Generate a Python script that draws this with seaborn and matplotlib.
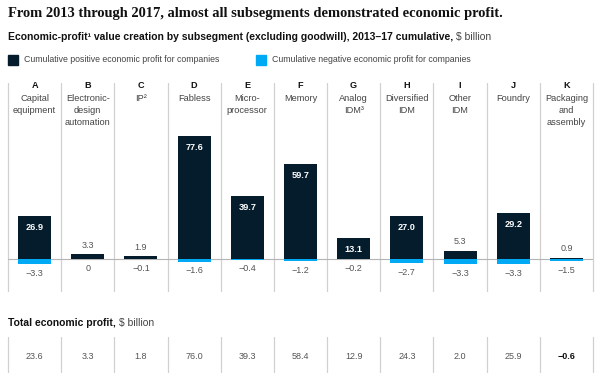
import numpy as np
import pandas as pd
import matplotlib
matplotlib.use("Agg")
import matplotlib.pyplot as plt
import seaborn as sns

# ---- data ----
letters = ["A", "B", "C", "D", "E", "F", "G", "H", "I", "J", "K"]
names = ["Capital\nequipment", "Electronic-\ndesign\nautomation", "IP\u00b2", "Fabless",
         "Micro-\nprocessor", "Memory", "Analog\nIDM\u00b3", "Diversified\nIDM",
         "Other\nIDM", "Foundry", "Packaging\nand\nassembly"]
positive = [26.9, 3.3, 1.9, 77.6, 39.7, 59.7, 13.1, 27.0, 5.3, 29.2, 0.9]
negative = [-3.3, 0.0, -0.1, -1.6, -0.4, -1.2, -0.2, -2.7, -3.3, -3.3, -1.5]
totals = [23.6, 3.3, 1.8, 76.0, 39.3, 58.4, 12.9, 24.3, 2.0, 25.9, -0.6]

DARK = "#051c2c"
BLUE = "#00a9f4"
GREY = "#d0d0d0"

sns.set_style("white")
plt.rcParams["font.family"] = ["Liberation Sans", "DejaVu Sans"]

W, H = 606, 383
fig = plt.figure(figsize=(W / 100, H / 100), dpi=100)


def fy(py):
    return 1 - py / H


def fx(px):
    return px / W


def fmt(v):
    if v == 0:
        return "0"
    return f"{v:.1f}".replace("-", "\u2212")


# ---- titles ----
fig.text(fx(8), fy(13), "From 2013 through 2017, almost all subsegments demonstrated economic profit.",
         family=["Liberation Serif", "DejaVu Serif"], weight="bold", fontsize=10.45,
         color="#111111", va="center")

fig.canvas.draw()
r = fig.canvas.get_renderer()


def mixed(px, py, bold, normal, size):
    t = fig.text(fx(px), fy(py), bold, weight="bold", fontsize=size, color="#111111", va="center")
    bb = t.get_window_extent(renderer=r)
    fig.text(bb.x1 / W + 3 / W, fy(py), normal, fontsize=size, color="#444444", va="center")


mixed(8, 37, "Economic-profit\u00b9 value creation by subsegment (excluding goodwill), 2013\u201317 cumulative,",
      "$ billion", 7.5)
mixed(8, 323, "Total economic profit,", "$ billion", 7.5)

# ---- legend ----
for sx, col, lab in [(8, DARK, "Cumulative positive economic profit for companies"),
                     (256, BLUE, "Cumulative negative economic profit for companies")]:
    fig.patches.append(plt.Rectangle((fx(sx), fy(65)), 10 / W, 10 / H, color=col,
                                     transform=fig.transFigure, figure=fig))
    fig.text(fx(sx + 16), fy(60), lab, fontsize=6.35, color="#444444", va="center")

# ---- bar chart ----
ax = fig.add_axes([fx(8), fy(291), 585 / W, 208 / H])
df = pd.DataFrame({"seg": letters, "pos": positive, "neg": negative})
sns.barplot(data=df, x="seg", y="pos", color=DARK, width=0.62, saturation=1,
            linewidth=0, ax=ax, zorder=3)
sns.barplot(data=df, x="seg", y="neg", color=BLUE, width=0.62, saturation=1,
            linewidth=0, ax=ax, zorder=3)
ax.set_xlim(-0.5, 10.5)
ax.set_ylim(-20.2, 111)
ax.axis("off")
for xb in np.arange(-0.5, 11, 1):
    ax.axvline(xb, color=GREY, lw=0.9, clip_on=False, zorder=1)
ax.axhline(0, color="#b4b4b4", lw=0.8, zorder=2)

for i, (p, n) in enumerate(zip(positive, negative)):
    if p >= 10:
        ax.annotate(fmt(p), (i, p), xytext=(0, -5), textcoords="offset points",
                    ha="center", va="top", color="white", fontsize=6.6, weight="bold", zorder=4)
    else:
        ax.annotate(fmt(p), (i, p), xytext=(0, 3), textcoords="offset points",
                    ha="center", va="bottom", color="#555555", fontsize=6.5, zorder=4)
    ax.annotate(fmt(n), (i, n), xytext=(0, -3.5), textcoords="offset points",
                ha="center", va="top", color="#555555", fontsize=6.5, zorder=4)

# ---- column headers ----
for i, (l, nm) in enumerate(zip(letters, names)):
    cx = fx(8 + 53.18 * (i + 0.5))
    fig.text(cx, fy(86), l, ha="center", va="center", weight="bold", fontsize=6.6, color="#111111")
    fig.text(cx, fy(94), nm, ha="center", va="top", fontsize=6.7, color="#444444", linespacing=1.45)

# ---- totals row ----
ax2 = fig.add_axes([fx(8), fy(372), 585 / W, 35 / H])
ax2.set_xlim(-0.5, 10.5)
ax2.set_ylim(0, 1)
ax2.axis("off")
for xb in np.arange(-0.5, 11, 1):
    ax2.axvline(xb, color=GREY, lw=0.9, clip_on=False)
for i, t in enumerate(totals):
    ax2.text(i, 0.43, fmt(t), ha="center", va="center", fontsize=6.5,
             color="#111111" if t < 0 else "#555555", weight="bold" if t < 0 else "normal")

fig.savefig("out.png", dpi=100)
